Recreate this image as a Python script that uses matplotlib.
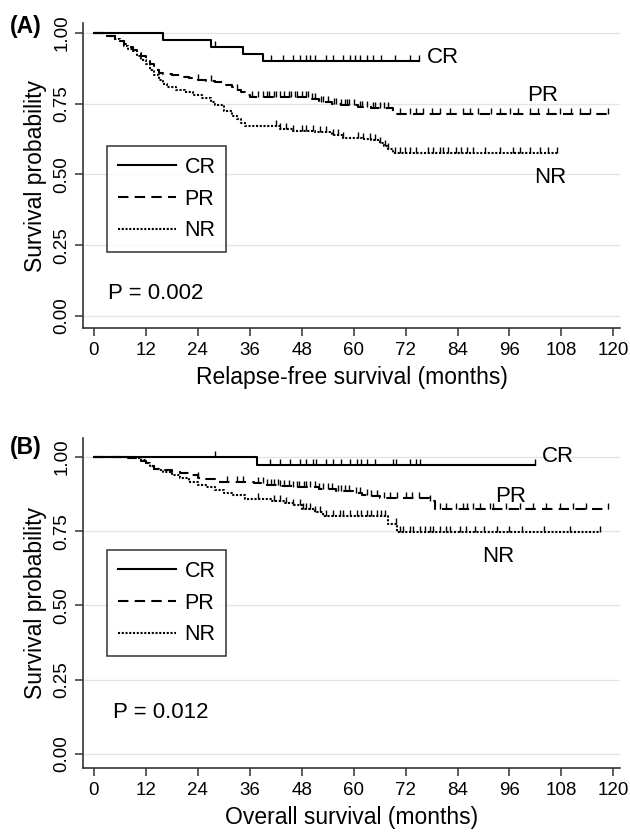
import numpy as np
import matplotlib
matplotlib.use("Agg")
import matplotlib.pyplot as plt
from matplotlib import font_manager

# ---------------- data ----------------
# Panel A: relapse-free survival
a_cr_t = [0, 16, 27, 34.5, 39]
a_cr_s = [1.0, 0.975, 0.95, 0.925, 0.90]
a_cr_end = 75
a_cr_cens = [28, 41, 43.6, 46, 47.6, 49, 50, 51, 53.7, 55.3, 57.6, 59.1, 60.3, 61.4, 63,
             64.5, 66.4, 69.5, 73, 75]

a_pr_t = [0, 3, 5, 6, 7, 8, 9, 10, 11, 12, 13, 14, 15, 16, 18, 20, 22, 24, 26, 28, 30,
          32, 33, 34, 35, 36, 50, 52, 55, 57, 61, 64, 69]
a_pr_s = [1, .99, .98, .97, .96, .95, .94, .93, .92, .90, .89, .87, .86, .855, .85, .845,
          .84, .835, .83, .825, .815, .81, .80, .79, .78, .775, .765, .755, .75, .745, .74,
          .735, .715]
a_pr_end = 119
a_pr_cens = [24, 27, 33, 36.5, 38, 39, 40, 40.5, 41.5, 42, 43, 44, 45, 45.5, 46.5, 47, 48,
             49, 49.5, 50.5, 51, 52.5, 53, 54, 55.5, 56, 57, 58, 58.5, 59, 60, 61.5, 62, 63,
             64.5, 65, 66, 67, 68, 70.7, 73, 74.5, 76, 78, 80, 82.2, 85.3, 86.8, 88.8, 91.8,
             93.8, 96.1, 98, 100.7, 102.6, 104.9, 107.6, 110.3, 112.2, 114.5, 118.8]

a_nr_t = [0, 3, 5, 6, 7, 8, 9, 10, 11, 12, 13, 14, 15, 16, 17, 19, 21, 23, 25, 27, 28, 30,
          32, 33, 34, 35, 43, 46, 51, 55, 57.5, 62, 64, 66, 67, 68, 69]
a_nr_s = [1, .99, .98, .97, .955, .945, .935, .92, .905, .89, .87, .85, .835, .82, .81, .80,
          .79, .78, .77, .755, .745, .725, .705, .695, .68, .67, .66, .655, .65, .64, .63,
          .625, .62, .61, .60, .59, .575]
a_nr_end = 107
a_nr_cens = [42, 43, 44.5, 46, 48, 49.1, 50.6, 52.2, 53.7, 55.3, 56.4, 57.6, 61, 62.2, 63.7,
             64.9, 66, 67.2, 68, 69.5, 70.7, 71.8, 73, 74.5, 77.2, 78.4, 79.9, 80.7, 81.8,
             83.7, 84.9, 86.1, 87.6, 90.3, 93.8, 96.8, 98.4, 100.7, 103, 105, 107]

# Panel B: overall survival
b_cr_t = [0, 37.6]
b_cr_s = [1.0, 0.973]
b_cr_end = 102
b_cr_cens = [28, 40.6, 43, 45.3, 47.6, 49.1, 50.6, 51.4, 53.7, 55.3, 57.2, 59.1, 60.7, 61.8,
             63, 64.9, 69.1, 69.9, 73, 74.5, 75.3, 101.8]

b_pr_t = [0, 8, 10, 11, 12, 13, 14, 16, 18, 20, 22, 24, 26, 28, 37, 40, 43, 46, 52, 56, 60,
          62, 64, 66, 77.6, 78.8]
b_pr_s = [1, .995, .99, .985, .98, .97, .96, .955, .95, .945, .94, .93, .925, .917, .912,
          .907, .903, .90, .893, .885, .88, .873, .868, .863, .85, .823]
b_pr_end = 119
b_pr_cens = [24, 30.7, 33, 34.5, 38, 39, 40, 41, 41.5, 42.5, 43, 44, 45, 46, 47, 47.5, 48.5,
             49, 50, 51, 52, 53, 54, 55, 56.5, 57, 58, 59, 60.5, 61.5, 63, 64, 65.5, 67,
             68.5, 70, 72, 73.5, 75, 77.6, 80, 81.4, 83.7, 85.3, 86.1, 87.6, 89.1, 91.4,
             92.2, 95.3, 98.4, 101.4, 104.5, 107.6, 110.7, 113.7, 118.8]

b_nr_t = [0, 9, 11, 12, 13, 14, 15, 16, 18, 20, 22, 24, 26, 28, 30, 32, 35, 41, 44, 46, 48,
          51, 53, 68, 70]
b_nr_s = [1, .995, .99, .98, .97, .96, .955, .95, .94, .93, .915, .905, .9, .89, .88, .873,
          .857, .85, .845, .837, .825, .813, .80, .775, .747]
b_nr_end = 117
b_nr_cens = [38, 41.5, 43, 44.5, 46, 47.6, 48.3, 49.1, 49.9, 51, 52.2, 53.7, 55.3, 56.8,
             57.6, 59.1, 60.7, 61.8, 63, 64.1, 65.3, 66.4, 67.2, 69.9, 70.7, 71.4, 73, 73.8,
             75.3, 76.5, 77.6, 78.4, 79.9, 81.4, 82.2, 84.5, 86, 88, 90, 93, 96, 99, 104,
             110, 117]

groups = ["CR", "PR", "NR"]
x_ticks = list(range(0, 121, 12))
y_ticks = [0.0, 0.25, 0.50, 0.75, 1.00]
y_ticklabels = ["0.00", "0.25", "0.50", "0.75", "1.00"]

# ---------------- style ----------------
avail = {f.name for f in font_manager.fontManager.ttflist}
fam = "Liberation Sans Narrow" if "Liberation Sans Narrow" in avail else "Liberation Sans"
plt.rcParams["font.family"] = [fam, "DejaVu Sans"]

styles = {
    "CR": dict(linestyle="-", linewidth=1.5),
    "PR": dict(linestyle=(0, (5, 3)), linewidth=1.5),
    "NR": dict(linestyle=(0, (1, 0.8)), linewidth=1.5),
}
axis_col = "#333333"

fig = plt.figure(figsize=(6.3, 8.38), dpi=100)
axA = fig.add_axes([0.1317, 0.6085, 0.8523, 0.364])
axB = fig.add_axes([0.1317, 0.0835, 0.8523, 0.394])


def step_val(t, s, x):
    idx = np.searchsorted(np.asarray(t), x, side="right") - 1
    return np.asarray(s)[idx]


def draw(ax, series, ylim, xlabel, ptext, ptext_xy, letter, letter_y, labels,
         legend_anchor):
    handles = []
    for g, (t, s, end, cens) in zip(groups, series):
        tt = list(t) + [end]
        ss = list(s) + [s[-1]]
        h, = ax.step(tt, ss, where="post", color="black", label=g, **styles[g])
        handles.append(h)
        cy = step_val(t, s, np.asarray(cens))
        ax.plot(cens, cy, linestyle="none", marker=2, markersize=4.5,
                markeredgewidth=1.0, color="black")
    ax.set_xlim(-2.5, 121.5)
    ax.set_ylim(*ylim)
    ax.set_xticks(x_ticks)
    ax.set_yticks(y_ticks)
    ax.set_yticklabels(y_ticklabels, rotation=90, va="center")
    ax.grid(axis="y", color="#e3e3e3", linewidth=0.9)
    ax.set_axisbelow(True)
    for sp in ["top", "right"]:
        ax.spines[sp].set_visible(False)
    for sp in ["left", "bottom"]:
        ax.spines[sp].set_color(axis_col)
        ax.spines[sp].set_linewidth(1.2)
    ax.tick_params(axis="both", colors=axis_col, labelcolor="black", labelsize=13.5,
                   length=6, width=1.1)
    ax.tick_params(axis="x", pad=4)
    ax.tick_params(axis="y", pad=3)
    ax.set_xlabel(xlabel, fontsize=16.5, labelpad=5)
    ax.set_ylabel("Survival probability", fontsize=16.5, labelpad=5)
    ax.text(ptext_xy[0], ptext_xy[1], ptext, fontsize=16, ha="left", va="center")
    for (lab, lx, ly) in labels:
        ax.text(lx, ly, lab, fontsize=16, ha="left", va="center")
    leg = ax.legend(handles=handles, loc="upper left", bbox_to_anchor=legend_anchor,
                    fontsize=15.5, frameon=True, fancybox=False, edgecolor="black",
                    handlelength=2.7, handletextpad=0.4, labelspacing=0.5,
                    borderpad=0.5, borderaxespad=0)
    leg.get_frame().set_linewidth(1.1)
    ax.text(-0.136, letter_y, letter, transform=ax.transAxes, fontsize=16.5,
            fontweight="bold", ha="left", va="center",
            family=["Liberation Sans", "DejaVu Sans"])


draw(axA,
     [(a_cr_t, a_cr_s, a_cr_end, a_cr_cens),
      (a_pr_t, a_pr_s, a_pr_end, a_pr_cens),
      (a_nr_t, a_nr_s, a_nr_end, a_nr_cens)],
     (-0.043, 1.035), "Relapse-free survival (months)", "P = 0.002", (3.2, 0.08),
     "(A)", 0.99,
     [("CR", 76.9, 0.912), ("PR", 100, 0.78), ("NR", 101.8, 0.49)],
     (0.045, 0.597))

draw(axB,
     [(b_cr_t, b_cr_s, b_cr_end, b_cr_cens),
      (b_pr_t, b_pr_s, b_pr_end, b_pr_cens),
      (b_nr_t, b_nr_s, b_nr_end, b_nr_cens)],
     (-0.047, 1.064), "Overall survival (months)", "P = 0.012", (4.4, 0.14),
     "(B)", 0.97,
     [("CR", 103.5, 1.0), ("PR", 92.6, 0.865), ("NR", 89.6, 0.665)],
     (0.045, 0.66))

fig.savefig("out.png", dpi=100)
